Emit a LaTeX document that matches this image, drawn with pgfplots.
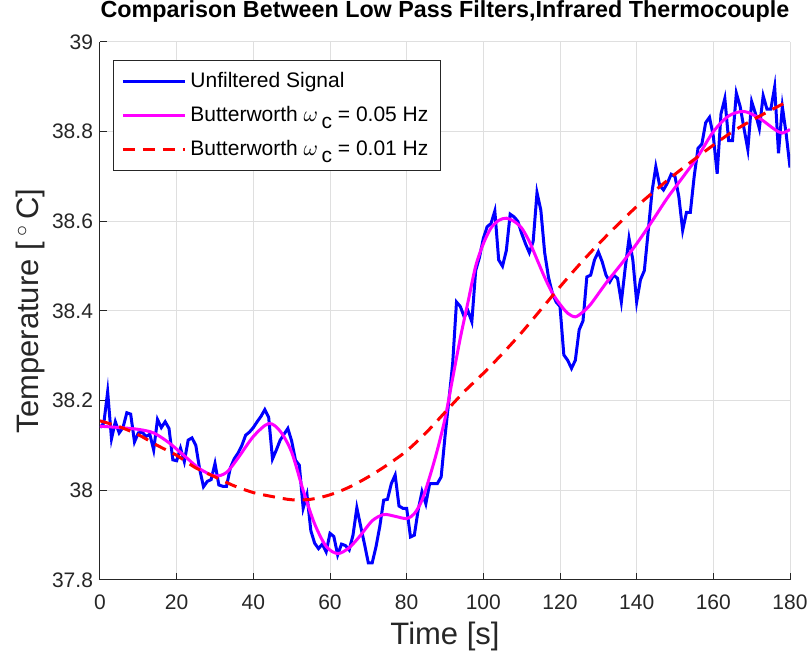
\documentclass[border=0pt]{standalone}
\usepackage{pgfplots}
\pgfplotsset{compat=1.18}
\usepackage{fontspec}
\setmainfont{Liberation Sans}
\definecolor{axgray}{RGB}{38,38,38}
\definecolor{gridgray}{RGB}{223,223,223}
\definecolor{sigblue}{RGB}{0,0,255}
\definecolor{bwmag}{RGB}{255,0,255}
\definecolor{bwred}{RGB}{255,0,0}
\begin{document}
\begin{tikzpicture}
\useasboundingbox (-50pt,-38.5pt) rectangle (354pt,290pt);
\begin{axis}[
  at={(0,0)}, anchor=south west,
  scale only axis, width=345pt, height=269pt,
  xmin=0, xmax=180, ymin=37.8, ymax=39,
  xtick={0,20,40,60,80,100,120,140,160,180},
  ytick={37.8,38,38.2,38.4,38.6,38.8,39},
  yticklabels={37.8,38,38.2,38.4,38.6,38.8,39},
  axis x line*=bottom, axis y line*=left,
  axis line style={axgray, line width=0.5pt},
  tick style={axgray, line width=0.5pt},
  tick align=inside, major tick length=3.5pt,
  grid=major, major grid style={gridgray, line width=0.5pt},
  /pgf/number format/assume math mode=true,
  ticklabel style={font=\fontsize{10.5}{12}\selectfont, text=axgray},
  xticklabel style={yshift=-4pt},
  title={Comparison Between Low Pass Filters,Infrared Thermocouple},
  title style={font=\bfseries\fontsize{11.65}{13}\selectfont, anchor=base, at={(axis description cs:0.5,1)}, yshift=6pt},
  xlabel={Time [s]},
  xlabel style={font=\fontsize{15.5}{18}\selectfont, text=axgray, anchor=base, at={(axis description cs:0.5,0)}, yshift=-32.5pt},
  ylabel={Temperature [\,$^\circ$\,C]},
  ylabel style={font=\fontsize{15.5}{18}\selectfont, text=axgray, anchor=center, at={(axis description cs:0,0.5)}, yshift=35pt},
  legend style={at={(axis description cs:0.0188,0.9665)}, anchor=north west,
    draw=axgray, line width=0.5pt, fill=white,
    font=\fontsize{10.5}{12}\selectfont, text=black,
    inner xsep=4pt, inner ysep=4pt, row sep=3.8pt},
  legend cell align=left,
  legend image code/.code={\draw[#1] (0pt,0pt) -- (31pt,0pt);},
]
\addplot[sigblue, line width=1.5pt] table {
0 38.14
1 38.15
2 38.22
3 38.115
4 38.153
5 38.128
6 38.14
7 38.173
8 38.17
9 38.108
10 38.128
11 38.13
12 38.12
13 38.125
14 38.09
15 38.158
16 38.14
17 38.153
18 38.138
19 38.068
20 38.066
21 38.094
22 38.064
23 38.112
24 38.117
25 38.1
26 38.047
27 38.008
28 38.02
29 38.024
30 38.06
31 38.012
32 38.009
33 38.009
34 38.05
35 38.07
36 38.083
37 38.1
38 38.123
39 38.13
40 38.14
41 38.153
42 38.165
43 38.18
44 38.163
45 38.07
46 38.09
47 38.112
48 38.125
49 38.138
50 38.11
51 38.067
52 38.056
53 37.96
54 37.99
55 37.91
56 37.882
57 37.87
58 37.88
59 37.863
60 37.904
61 37.897
62 37.856
63 37.88
64 37.877
65 37.867
66 37.9
67 37.961
68 37.92
69 37.88
70 37.838
71 37.838
72 37.874
73 37.92
74 37.978
75 37.98
76 38.015
77 38.034
78 37.965
79 37.96
80 37.96
81 37.896
82 37.9
83 37.956
84 37.997
85 37.97
86 38.015
87 38.015
88 38.015
89 38.03
90 38.12
91 38.2
92 38.283
93 38.42
94 38.41
95 38.387
96 38.4
97 38.376
98 38.49
99 38.52
100 38.562
101 38.588
102 38.595
103 38.623
104 38.514
105 38.5
106 38.535
107 38.616
108 38.61
109 38.6
110 38.573
111 38.55
112 38.53
113 38.555
114 38.664
115 38.625
116 38.53
117 38.475
118 38.44
119 38.42
120 38.41
121 38.302
122 38.29
123 38.272
124 38.29
125 38.358
126 38.378
127 38.476
128 38.48
129 38.514
130 38.532
131 38.51
132 38.48
133 38.465
134 38.48
135 38.473
136 38.42
137 38.495
138 38.562
139 38.514
140 38.42
141 38.47
142 38.49
143 38.577
144 38.666
145 38.722
146 38.68
147 38.67
148 38.685
149 38.705
150 38.7
151 38.655
152 38.58
153 38.62
154 38.62
155 38.7
156 38.763
157 38.772
158 38.82
159 38.832
160 38.79
161 38.706
162 38.84
163 38.874
164 38.78
165 38.78
166 38.886
167 38.856
168 38.807
169 38.76
170 38.867
171 38.84
172 38.807
173 38.88
174 38.85
175 38.85
176 38.9
177 38.752
178 38.856
179 38.795
180 38.72
};
\addlegendentry{Unfiltered Signal}
\addplot[bwmag, line width=1.5pt, smooth] table {
0 38.143
5 38.14
10 38.136
14 38.128
18 38.106
22 38.077
26 38.048
30 38.032
33 38.04
36 38.072
40 38.12
44 38.149
47 38.132
50 38.085
53 38.0
56 37.925
59 37.875
62 37.859
65 37.872
68 37.9
71 37.932
74 37.946
77 37.942
80 37.937
82 37.948
84 37.978
86 38.03
88 38.09
90 38.16
92 38.25
94 38.34
96 38.42
98 38.5
100 38.55
102 38.585
104 38.602
106 38.607
108 38.6
110 38.585
112 38.555
114 38.515
116 38.475
118 38.44
120 38.415
122 38.395
124 38.387
126 38.398
128 38.415
132 38.462
136 38.505
140 38.55
144 38.6
148 38.652
152 38.698
156 38.745
160 38.8
164 38.835
168 38.845
172 38.83
176 38.805
178 38.797
180 38.805
};
\addlegendentry{Butterworth $\omega$\,\raisebox{-0.6ex}{c} = 0.05 Hz}
\addplot[bwred, line width=1.5pt, dash pattern=on 6pt off 4pt, smooth] table {
0 38.155
5 38.142
10 38.124
15 38.1
20 38.078
25 38.05
30 38.03
35 38.01
40 37.995
45 37.986
50 37.979
55 37.98
60 37.99
65 38.007
70 38.03
75 38.057
80 38.088
85 38.128
90 38.174
95 38.22
100 38.261
105 38.305
110 38.352
115 38.403
120 38.454
125 38.503
130 38.549
135 38.592
140 38.633
145 38.67
150 38.705
155 38.738
160 38.77
165 38.8
170 38.825
175 38.848
180 38.87
};
\addlegendentry{Butterworth $\omega$\,\raisebox{-0.6ex}{c} = 0.01 Hz}
\end{axis}
\end{tikzpicture}
\end{document}
